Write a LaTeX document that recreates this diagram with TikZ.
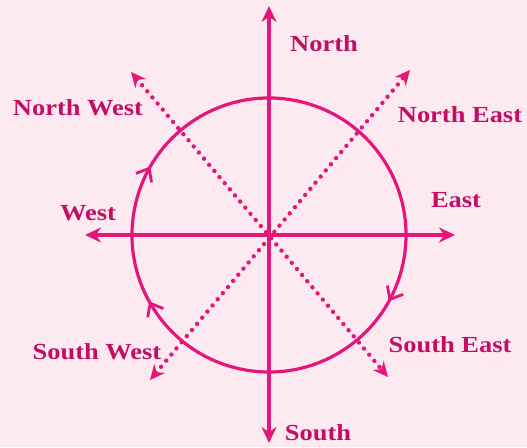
\documentclass[tikz,border=0pt]{standalone}
\usepackage{fontspec}
\setmainfont{Liberation Serif}[BoldFeatures={FakeStretch=1.15}]
\usetikzlibrary{arrows.meta,decorations.markings}
\definecolor{bgpink}{RGB}{252,234,240}
\definecolor{linemag}{RGB}{228,22,124}
\definecolor{textmag}{RGB}{196,14,102}
\tikzset{
  axisline/.style={draw=linemag,line width=3.2pt,-{Stealth[length=16pt,width=15pt]}},
  dotline/.style={draw=linemag,line width=4.4pt,line cap=round,dash pattern=on 0.01pt off 8pt,{Stealth[length=15pt,width=14pt]}-{Stealth[length=15pt,width=14pt]}},
  lbl/.style={text=textmag,font=\fontsize{23}{25}\selectfont\bfseries,anchor=base,inner sep=0pt},
  circarrow/.style={decoration={markings,
      mark=at position 0.0556 with {\arrow{Straight Barb[length=11pt,width=18pt,line width=2.8pt]}},
      mark=at position 0.5528 with {\arrow{Straight Barb[length=11pt,width=18pt,line width=2.8pt]}},
      mark=at position 0.8917 with {\arrow{Straight Barb[length=11pt,width=18pt,line width=2.8pt]}}},
    postaction={decorate}}
}
\begin{document}
\begin{tikzpicture}[x=1pt,y=1pt]
\fill[bgpink] (0,0) rectangle (527,447);
\useasboundingbox (0,0) rectangle (527,447);
\coordinate (O) at (269,212);
\coordinate (n) at (269,441);
\coordinate (s) at (269,4);
\coordinate (w) at (85,212);
\coordinate (e) at (455,212);
\coordinate (nw) at (131,375);
\coordinate (se) at (388,70);
\coordinate (ne) at (410,377);
\coordinate (sw) at (150,67);
% circle (clockwise)
\draw[draw=linemag,line width=3.2pt,circarrow] (O) ++(170:137) arc[start angle=170,end angle=-190,radius=137];
% dotted diagonals
\draw[dotline] (nw) -- (se);
\draw[dotline] (sw) -- (ne);
% axes
\draw[axisline] (O) -- (n);
\draw[axisline] (O) -- (s);
\draw[axisline] (O) -- (w);
\draw[axisline] (O) -- (e);
% labels
\node[lbl] (lN) at (324,395) {North};
\node[lbl] (lS) at (318,7) {South};
\node[lbl] (lW) at (88,226) {West};
\node[lbl] (lE) at (456,239) {East};
\node[lbl] (lNW) at (78,331) {North West};
\node[lbl] (lNE) at (460,324) {North East};
\node[lbl] (lSW) at (97,87) {South West};
\node[lbl] (lSE) at (450,94) {South East};
\end{tikzpicture}
\end{document}
